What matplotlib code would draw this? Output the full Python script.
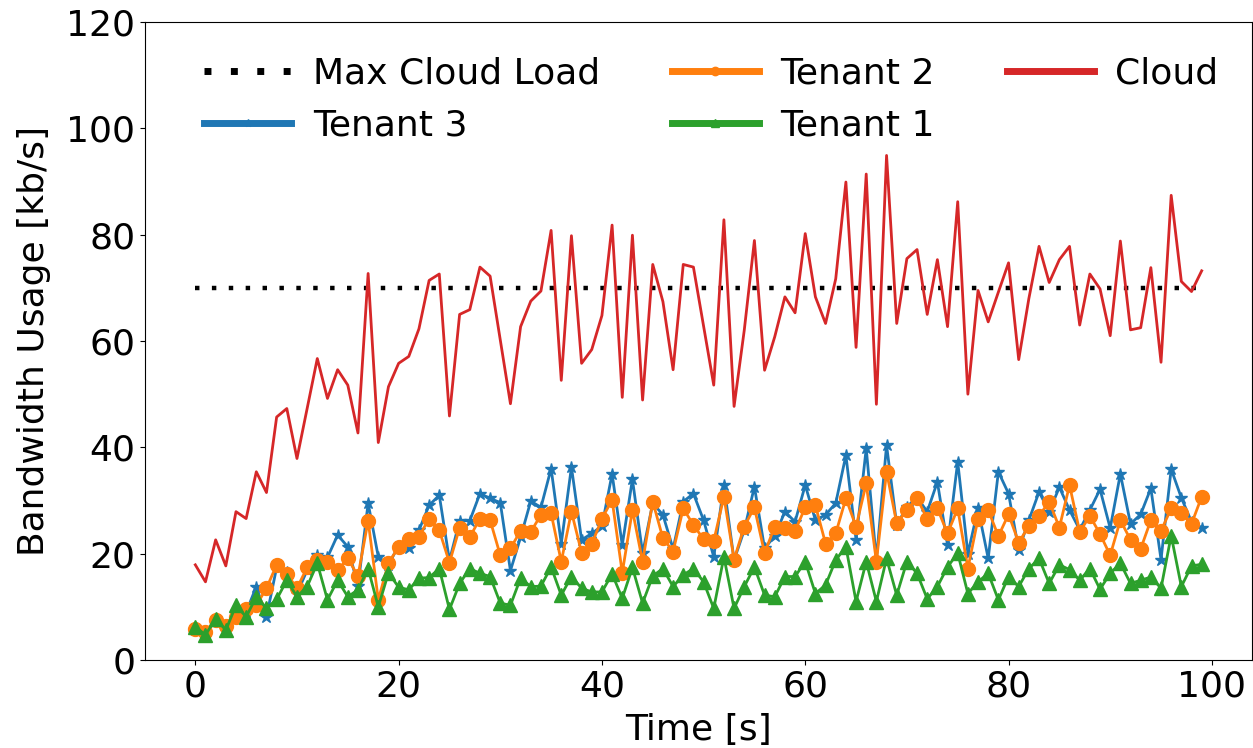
import matplotlib
matplotlib.use("Agg")
import matplotlib.pyplot as plt
import numpy as np

time_s = list(range(100))

cloud = [17.9, 14.7, 22.6, 17.7, 27.9, 26.6, 35.4, 31.5, 45.7, 47.3,
         37.9, 47.3, 56.7, 49.2, 54.6, 51.7, 42.7, 72.7, 40.9, 51.4,
         55.8, 57.1, 62.3, 71.4, 72.6, 45.9, 65.0, 65.9, 73.9, 72.2,
         60.2, 48.2, 62.7, 67.5, 69.4, 80.8, 52.6, 79.8, 55.8, 58.4,
         64.8, 81.8, 49.4, 79.9, 48.9, 74.4, 67.4, 54.6, 74.4, 73.9,
         62.8, 51.7, 82.8, 47.7, 62.0, 78.9, 54.5, 60.8, 68.3, 65.3,
         80.2, 68.3, 63.3, 71.7, 89.9, 58.8, 91.4, 48.1, 94.9, 63.3,
         75.5, 77.2, 65.0, 75.3, 62.7, 86.2, 50.0, 69.5, 63.6, 69.2,
         74.7, 56.5, 68.0, 77.8, 71.0, 75.3, 77.8, 63.0, 72.6, 69.8,
         61.0, 78.8, 62.1, 62.5, 73.8, 56.0, 87.4, 71.2, 69.3, 73.2]

tenant3 = [5.8, 4.8, 7.5, 5.8, 9.0, 9.0, 13.8, 8.1, 17.4, 16.6,
           12.5, 16.9, 19.7, 19.3, 23.5, 21.3, 13.9, 29.5, 19.4, 17.9,
           21.5, 21.0, 24.4, 29.1, 31.0, 18.7, 26.2, 26.2, 31.3, 30.4,
           29.6, 16.8, 23.1, 29.9, 28.7, 36.0, 21.9, 36.3, 22.6, 23.8,
           25.2, 35.0, 21.6, 34.0, 20.1, 29.5, 27.3, 20.9, 29.8, 31.3,
           26.3, 19.4, 32.9, 18.8, 24.4, 32.6, 21.0, 23.3, 27.9, 26.0,
           32.9, 26.3, 27.3, 29.5, 38.5, 22.6, 39.8, 18.8, 40.4, 25.4,
           28.8, 30.6, 27.9, 33.5, 21.6, 37.3, 20.0, 28.5, 19.1, 35.4,
           31.3, 20.7, 26.3, 31.6, 27.9, 32.5, 28.2, 24.5, 28.2, 32.1,
           24.8, 35.0, 25.6, 27.4, 32.3, 18.9, 35.9, 30.5, 26.0, 24.9]

tenant2 = [5.8, 5.3, 7.6, 6.4, 8.1, 9.6, 10.3, 13.5, 17.9, 16.2,
           13.5, 17.4, 18.9, 18.5, 16.9, 19.1, 15.8, 26.2, 11.3, 18.3,
           21.2, 22.7, 23.2, 26.6, 24.4, 18.3, 24.9, 23.1, 26.6, 26.3,
           19.7, 21.0, 24.3, 24.1, 27.3, 27.6, 18.5, 27.9, 20.2, 21.8,
           26.6, 30.1, 16.4, 28.2, 18.5, 29.8, 22.9, 20.4, 28.5, 25.4,
           22.7, 22.4, 30.7, 18.9, 25.1, 28.7, 20.1, 25.1, 24.9, 24.3,
           28.7, 29.1, 21.9, 23.8, 30.4, 25.1, 33.2, 18.5, 35.4, 25.7,
           28.2, 30.4, 26.6, 28.5, 23.8, 28.5, 17.2, 26.6, 28.2, 23.3,
           27.4, 22.1, 25.2, 27.1, 29.8, 24.9, 32.9, 24.1, 27.1, 23.7,
           19.7, 26.3, 22.6, 20.9, 26.3, 24.3, 28.5, 27.6, 25.6, 30.7]

tenant1 = [6.3, 4.7, 7.8, 5.6, 10.3, 8.1, 11.9, 9.7, 11.4, 15.0,
           11.9, 13.8, 18.2, 11.3, 15.0, 11.9, 13.2, 17.2, 10.0, 16.4,
           13.7, 13.2, 15.4, 15.5, 17.2, 9.5, 14.4, 17.2, 16.3, 15.7,
           10.7, 10.3, 15.4, 13.8, 13.9, 17.5, 12.2, 15.7, 13.5, 12.8,
           12.8, 16.2, 11.6, 17.4, 10.7, 15.8, 17.2, 13.8, 16.0, 17.2,
           14.7, 9.7, 19.4, 9.7, 13.8, 17.5, 12.2, 11.9, 15.7, 15.7,
           18.5, 12.5, 14.1, 18.8, 21.3, 11.0, 18.5, 11.0, 19.1, 12.2,
           18.5, 16.3, 11.5, 13.8, 17.5, 20.1, 12.5, 14.7, 16.3, 11.3,
           15.7, 13.8, 17.2, 19.1, 14.4, 17.9, 17.0, 15.0, 17.2, 13.3,
           16.3, 18.2, 14.4, 15.0, 15.6, 13.5, 23.4, 13.8, 17.7, 18.0]

max_cloud_load = 70

plt.rcParams['font.family'] = 'DejaVu Sans'
plt.rcParams['font.size'] = 26

fig = plt.figure(figsize=(12.53, 7.48), dpi=100)
ax = fig.add_axes([145/1253, 1 - 660/748, (1252 - 145)/1253, (660 - 22)/748])

l_max, = ax.plot(time_s, [max_cloud_load] * len(time_s), color='black',
                 linestyle=(0, (1, 2.8)), linewidth=3.2, label='Max Cloud Load')
l_t3, = ax.plot(time_s, tenant3, color='#1f77b4', marker='*', markersize=9,
                linewidth=2, label='Tenant 3')
l_t2, = ax.plot(time_s, tenant2, color='#ff7f0e', marker='o', markersize=10,
                linewidth=2, label='Tenant 2')
l_t1, = ax.plot(time_s, tenant1, color='#2ca02c', marker='^', markersize=10,
                linewidth=2, label='Tenant 1')
l_cl, = ax.plot(time_s, cloud, color='#d62728', linewidth=2, label='Cloud')

ax.set_ylim(0, 120)
ax.set_yticks([0, 20, 40, 60, 80, 100, 120])
ax.set_xticks([0, 20, 40, 60, 80, 100])
ax.set_xlabel('Time [s]', labelpad=7)
ax.set_ylabel('Bandwidth Usage [kb/s]', labelpad=11)

leg = ax.legend(handles=[l_max, l_t3, l_t2, l_t1, l_cl], ncol=3,
                loc='upper center', bbox_to_anchor=(0.5 + 13/1107, 1.0),
                frameon=False, fontsize=26,
                handlelength=2.4, handletextpad=0.6, columnspacing=2.0,
                borderaxespad=0.55)
for ln in leg.get_lines():
    ln.set_linewidth(5)
    ln.set_markersize(6)

fig.savefig('out.png', dpi=100)
